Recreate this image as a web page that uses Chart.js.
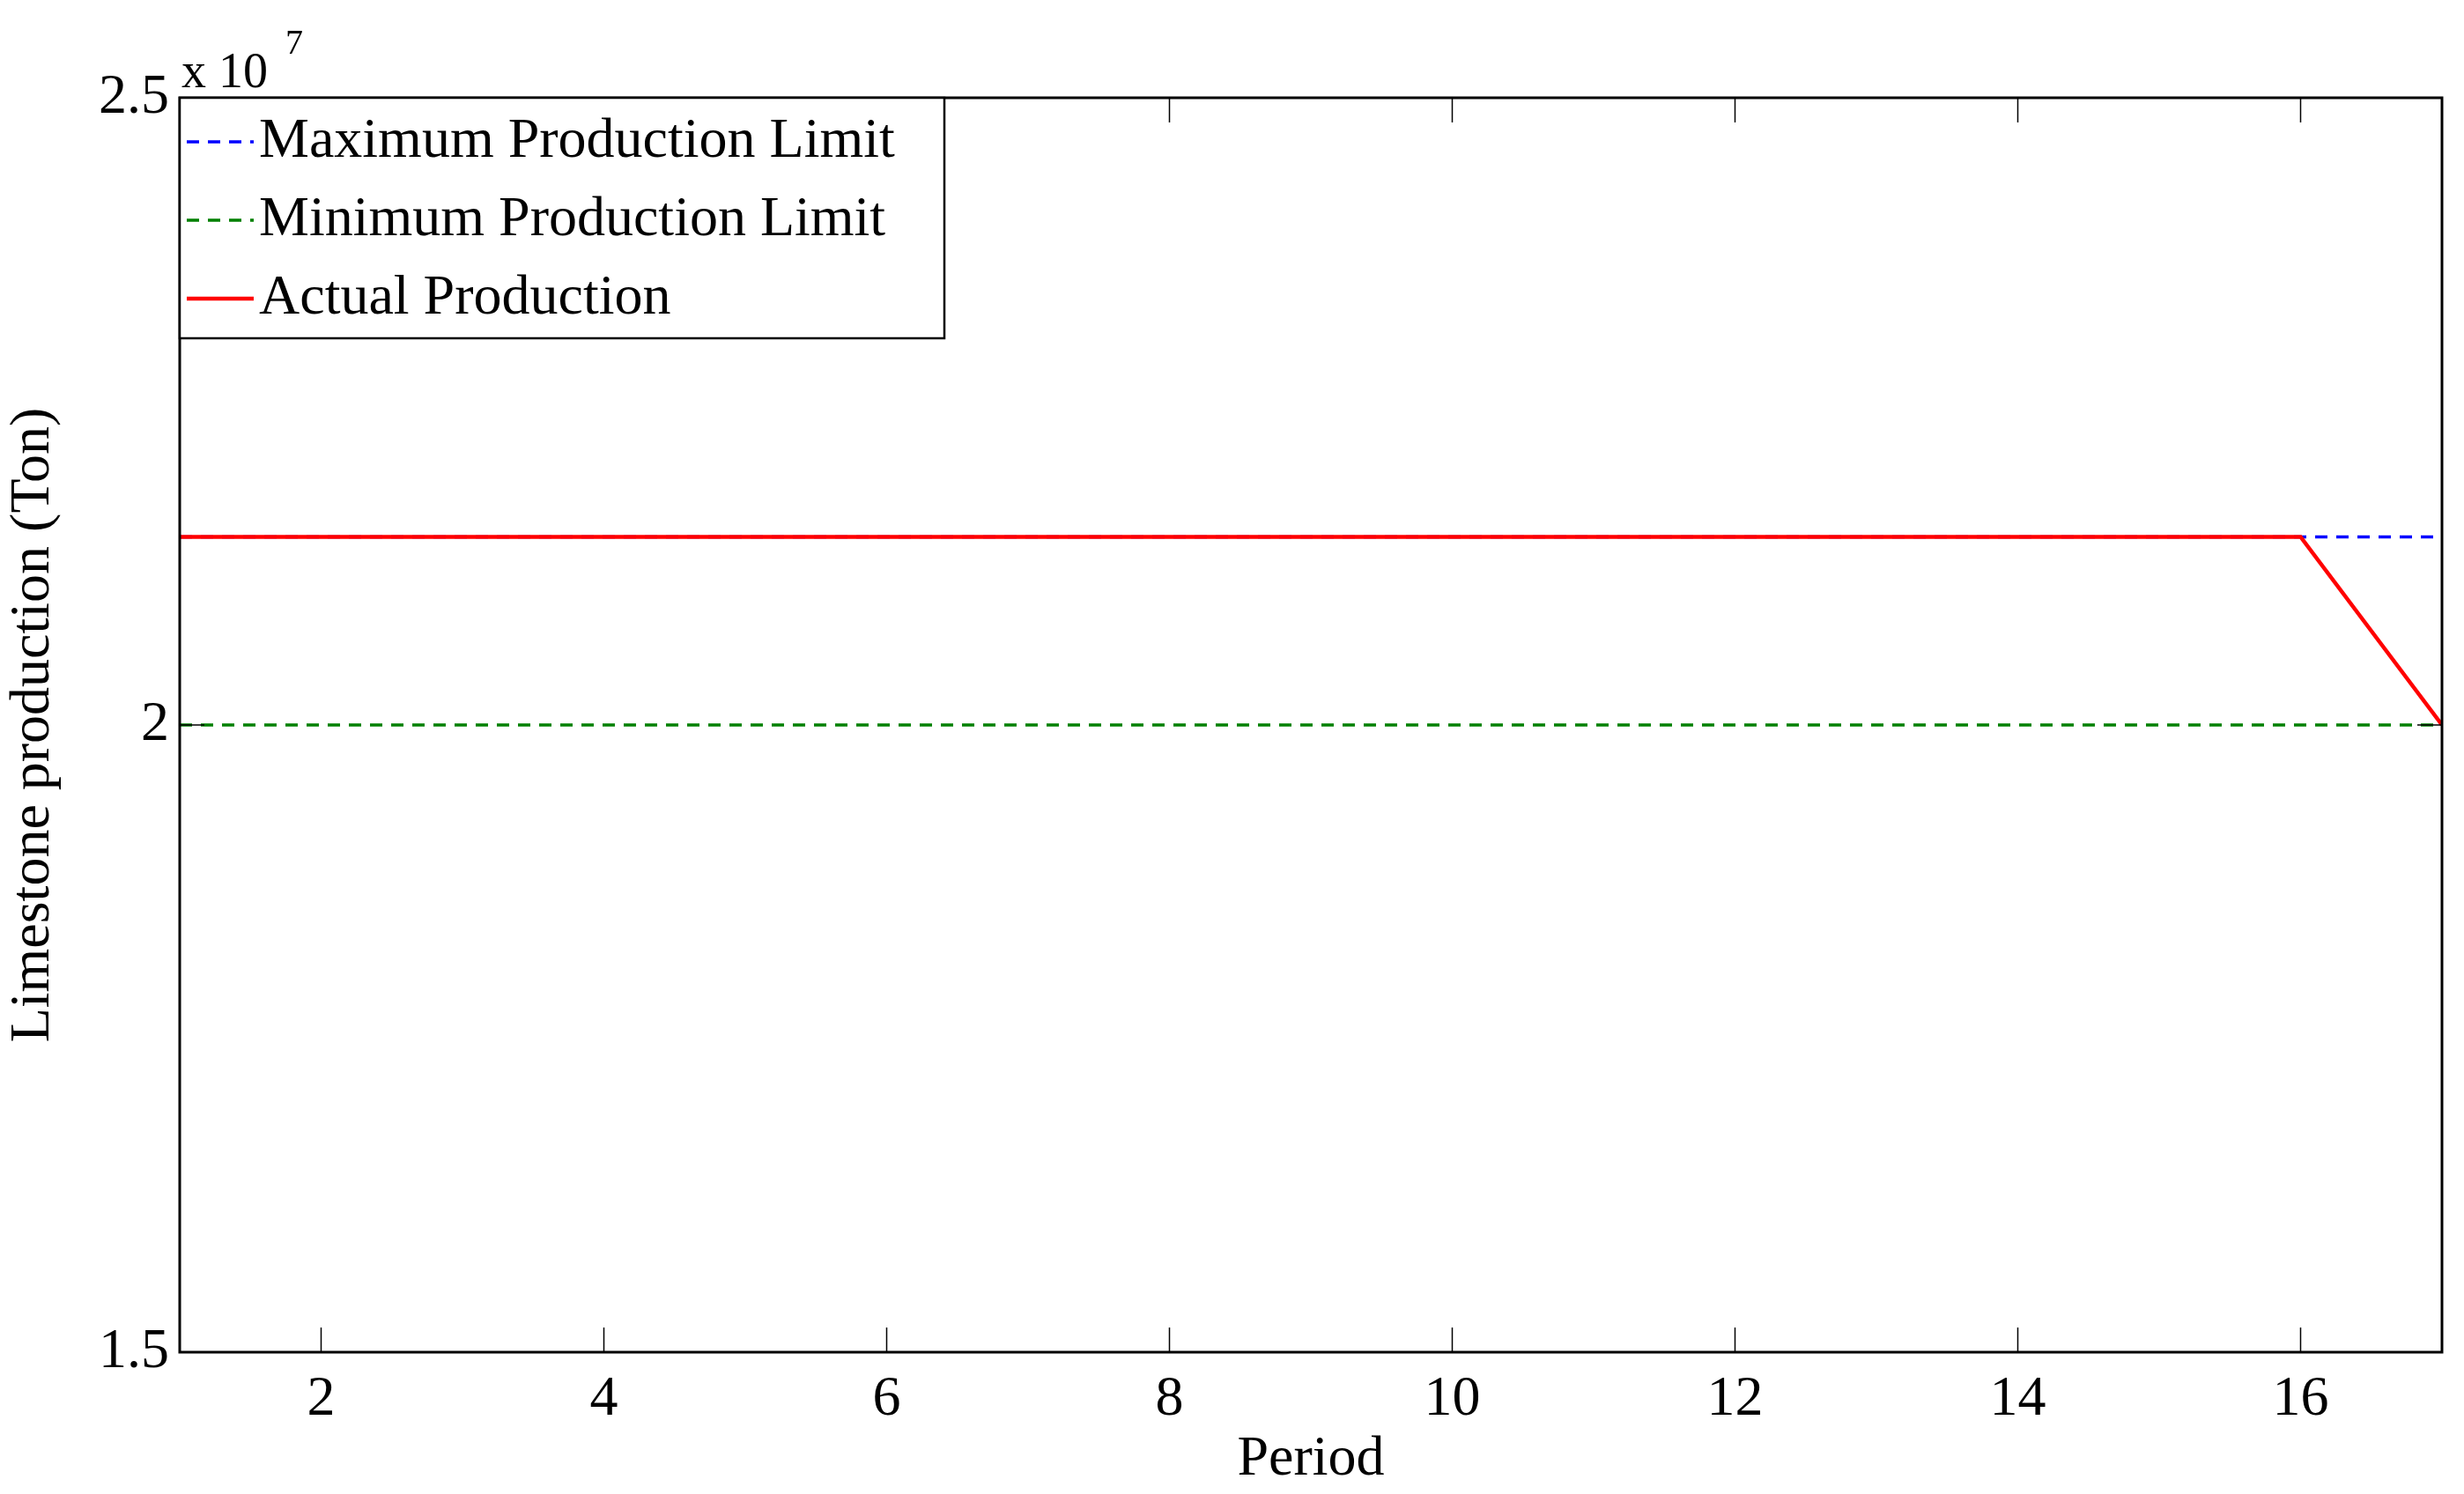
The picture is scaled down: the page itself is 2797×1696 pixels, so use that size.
<!DOCTYPE html>
<html lang="en">
<head>
<meta charset="UTF-8">
<title>Limestone production</title>
<script src="https://cdn.jsdelivr.net/npm/chart.js"></script>
<style>
  body { margin: 0; background: #fff; }
  #wrap { width: 2797px; height: 1696px; }
</style>
</head>
<body>
<div id="wrap"><canvas id="myChart"></canvas></div>
<script>
var periods = [1, 2, 3, 4, 5, 6, 7, 8, 9, 10, 11, 12, 13, 14, 15, 16, 17];
var maxLimit = [21500000, 21500000, 21500000, 21500000, 21500000, 21500000, 21500000, 21500000, 21500000, 21500000, 21500000, 21500000, 21500000, 21500000, 21500000, 21500000, 21500000];
var minLimit = [20000000, 20000000, 20000000, 20000000, 20000000, 20000000, 20000000, 20000000, 20000000, 20000000, 20000000, 20000000, 20000000, 20000000, 20000000, 20000000, 20000000];
var actual = [21500000, 21500000, 21500000, 21500000, 21500000, 21500000, 21500000, 21500000, 21500000, 21500000, 21500000, 21500000, 21500000, 21500000, 21500000, 21500000, 20000000];
var xTicks = [2, 4, 6, 8, 10, 12, 14, 16];
var yTicks = [15000000, 20000000, 25000000];

var FONT = '"Liberation Serif", "Times New Roman", serif';

function pts(arr) {
    return periods.map(function (p, i) { return { x: p, y: arr[i] }; });
}

// frame, inward ticks, exponent label and boxed legend, MATLAB style
var matlabStyle = {
    id: 'matlabStyle',
    afterDraw: function (chart) {
        var ctx = chart.ctx;
        var a = chart.chartArea;
        var xs = chart.scales.x, ys = chart.scales.y;
        ctx.save();
        ctx.strokeStyle = '#000';
        ctx.lineWidth = 1.5;
        xTicks.forEach(function (t) {
            var px = xs.getPixelForValue(t);
            ctx.beginPath();
            ctx.moveTo(px, a.bottom); ctx.lineTo(px, a.bottom - 28);
            ctx.moveTo(px, a.top); ctx.lineTo(px, a.top + 28);
            ctx.stroke();
        });
        yTicks.forEach(function (t) {
            var py = ys.getPixelForValue(t);
            ctx.beginPath();
            ctx.moveTo(a.left, py); ctx.lineTo(a.left + 28, py);
            ctx.moveTo(a.right, py); ctx.lineTo(a.right - 28, py);
            ctx.stroke();
        });
        ctx.lineWidth = 3;
        ctx.strokeRect(a.left, a.top, a.right - a.left, a.bottom - a.top);

        // exponent
        ctx.fillStyle = '#000';
        ctx.textBaseline = 'alphabetic';
        ctx.textAlign = 'left';
        ctx.font = '56px ' + FONT;
        ctx.fillText('x 10', a.left + 2, a.top - 12);
        ctx.font = '40px ' + FONT;
        ctx.fillText('7', a.left + 120, a.top - 50);

        // legend
        var lx = a.left, ly = a.top, lw = 868, lh = 273;
        ctx.fillStyle = '#fff';
        ctx.fillRect(lx, ly, lw, lh);
        ctx.lineWidth = 2.5;
        ctx.strokeRect(lx, ly, lw, lh);
        ctx.font = '64px ' + FONT;
        ctx.textBaseline = 'middle';
        chart.data.datasets.forEach(function (ds, i) {
            var yy = ly + 50 + i * 89;
            ctx.strokeStyle = ds.borderColor;
            ctx.lineWidth = ds.borderWidth;
            ctx.setLineDash(ds.borderDash || []);
            ctx.beginPath();
            ctx.moveTo(lx + 8, yy); ctx.lineTo(lx + 84, yy);
            ctx.stroke();
            ctx.setLineDash([]);
            ctx.fillStyle = '#000';
            ctx.fillText(ds.label, lx + 90, yy);
        });
        ctx.restore();
    }
};

new Chart(document.getElementById('myChart'), {
    type: 'line',
    data: {
        datasets: [
            { label: 'Maximum Production Limit', data: pts(maxLimit), borderColor: '#0000ff', borderWidth: 3.5, borderDash: [14, 10], pointRadius: 0, order: 3 },
            { label: 'Minimum Production Limit', data: pts(minLimit), borderColor: '#008000', borderWidth: 3.5, borderDash: [14, 10], pointRadius: 0, order: 2 },
            { label: 'Actual Production', data: pts(actual), borderColor: '#ff0000', borderWidth: 4.5, pointRadius: 0, order: 1 }
        ]
    },
    options: {
        responsive: true,
        maintainAspectRatio: false,
        animation: false,
        layout: { padding: { top: 111, right: 25, left: 0, bottom: 0 } },
        plugins: { legend: { display: false }, tooltip: { enabled: false } },
        scales: {
            x: {
                type: 'linear', min: 1, max: 17,
                afterBuildTicks: function (s) { s.ticks = xTicks.map(function (v) { return { value: v }; }); },
                afterFit: function (s) { s.height = 161; },
                grid: { display: false },
                border: { display: false },
                ticks: { color: '#000', font: { family: FONT, size: 64 }, padding: 8, maxRotation: 0 },
                title: { display: true, text: 'Period', color: '#000', font: { family: FONT, size: 64 }, padding: { top: 0, bottom: 0 } }
            },
            y: {
                type: 'linear', min: 15000000, max: 25000000,
                afterBuildTicks: function (s) { s.ticks = yTicks.map(function (v) { return { value: v }; }); },
                afterFit: function (s) { s.width = 204; },
                grid: { display: false },
                border: { display: false },
                ticks: {
                    color: '#000', font: { family: FONT, size: 64 }, padding: 4,
                    callback: function (v) { return String(v / 1e7); }
                },
                title: { display: true, text: 'Limestone production (Ton)', color: '#000', font: { family: FONT, size: 64 }, padding: { top: 0, bottom: 0 } }
            }
        }
    },
    plugins: [matlabStyle]
});
</script>
</body>
</html>
